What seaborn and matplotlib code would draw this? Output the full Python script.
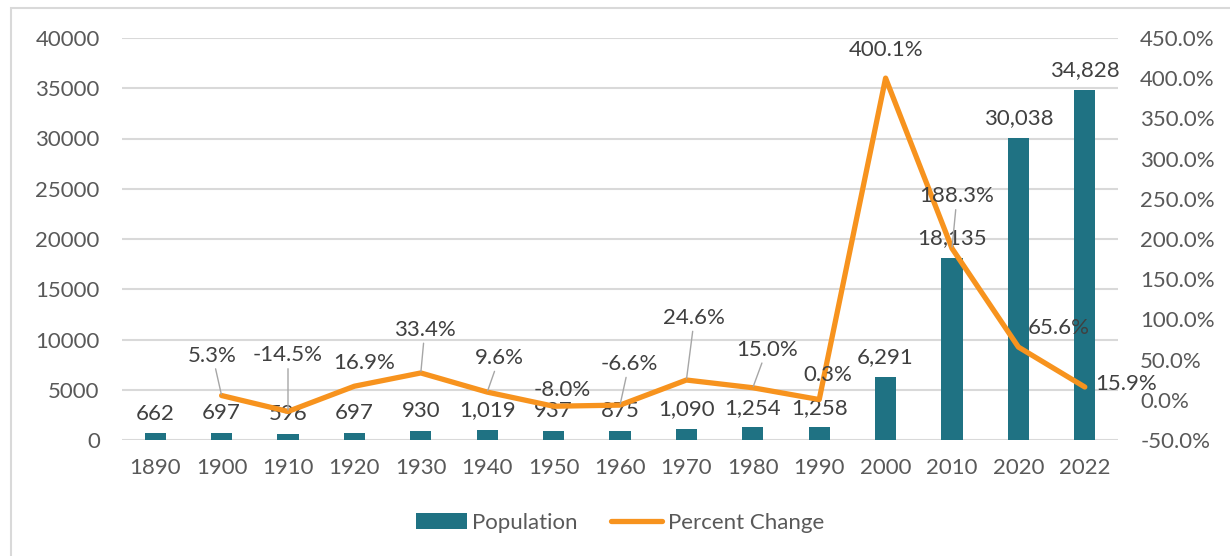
import numpy as np
import pandas as pd
import matplotlib
matplotlib.use("Agg")
import matplotlib.pyplot as plt
import seaborn as sns
from matplotlib.patches import Patch, Rectangle
from matplotlib.lines import Line2D

# data
years = ["1890", "1900", "1910", "1920", "1930", "1940", "1950", "1960",
         "1970", "1980", "1990", "2000", "2010", "2020", "2022"]
population = [662, 697, 596, 697, 930, 1019, 937, 875,
              1090, 1254, 1258, 6291, 18135, 30038, 34828]
pct_change = [np.nan, 5.3, -14.5, 16.9, 33.4, 9.6, -8.0, -6.6,
              24.6, 15.0, 0.3, 400.1, 188.3, 65.6, 15.9]

# label placement for the percent labels (pixel offsets, leader line on/off)
pct_offsets = [None, (-9, 40, True), (0, 56, True), (10, 23, False), (4, 43, True),
               (12, 34, True), (9, 16, False), (9, 41, True), (8, 62, True),
               (14, 38, True), (9, 25, False), (0, 28, False), (5, 52, True),
               (40, 19, False), (41, 3, False)]

BAR = "#1F7283"
LINE = "#F7931E"
TICK = "#595959"
LABEL = "#404040"
GRID = "#D9D9D9"
FS = 16

sns.set_style("white")
plt.rcParams["font.family"] = ["Lato", "DejaVu Sans"]

df = pd.DataFrame({"year": years, "population": population, "pct": pct_change})

fig = plt.figure(figsize=(12.3, 5.56), dpi=100)
ax = fig.add_axes([122 / 1230, 116 / 556, 996 / 1230, 402 / 556])

sns.barplot(data=df, x="year", y="population", color=BAR, width=0.32,
            saturation=1, linewidth=0, ax=ax)
ax.set_ylim(0, 40000)
ax.set_yticks(np.arange(0, 40001, 5000))
ax.set_xlim(-0.5, len(years) - 0.5)
ax.grid(axis="y", color=GRID, linewidth=1.5)
ax.set_axisbelow(True)
ax.set_xlabel("")
ax.set_ylabel("")
for s in ax.spines.values():
    s.set_visible(False)
ax.tick_params(axis="y", length=0, pad=16, labelsize=FS, labelcolor=TICK)
ax.tick_params(axis="x", length=0, pad=13, labelsize=FS, labelcolor=TICK)

ax.bar_label(ax.containers[0], labels=[f"{v:,}" for v in population],
             padding=7, fontsize=FS, color=LABEL)

# percent change on the secondary axis
ax2 = ax.twinx()
sns.lineplot(x=np.arange(len(years)), y=df["pct"], ax=ax2, color=LINE,
             linewidth=3.8, solid_capstyle="round", legend=False)
ax2.set_ylim(-50, 450)
ax2.set_yticks(np.arange(-50, 451, 50))
ax2.set_yticklabels([f"{v:.1f}%" for v in np.arange(-50, 451, 50)])
ax2.set_xlim(-0.5, len(years) - 0.5)
ax2.set_ylabel("")
ax2.set_xlabel("")
for s in ax2.spines.values():
    s.set_visible(False)
ax2.tick_params(axis="y", length=0, pad=16, labelsize=FS, labelcolor=TICK)

for i, v in enumerate(pct_change):
    if np.isnan(v):
        continue
    dx, dy, leader = pct_offsets[i]
    arrow = dict(arrowstyle="-", color="#A6A6A6", lw=1, shrinkA=0, shrinkB=1) if leader else None
    ax2.annotate(f"{v:.1f}%", xy=(i, v), xytext=(dx, dy), textcoords="offset pixels",
                 ha="center", va="center", fontsize=FS, color=LABEL,
                 arrowprops=arrow)

handles = [Patch(facecolor=BAR, edgecolor="none"),
           Line2D([0], [0], color=LINE, linewidth=3.8, solid_capstyle="round")]
fig.legend(handles, ["Population", "Percent Change"], loc="center",
           bbox_to_anchor=(620 / 1230, 33 / 556), ncol=2, frameon=False,
           fontsize=FS, labelcolor=TICK, handlelength=2.3, handletextpad=0.25,
           columnspacing=1.5)

# chart border (top and left edges visible)
fig.patches.append(Rectangle((11 / 1230, -0.2), 1.5, 0.2 + 1 - 8 / 556,
                             transform=fig.transFigure, fill=False,
                             edgecolor=GRID, linewidth=1.5))

fig.savefig("out.png", dpi=100)
